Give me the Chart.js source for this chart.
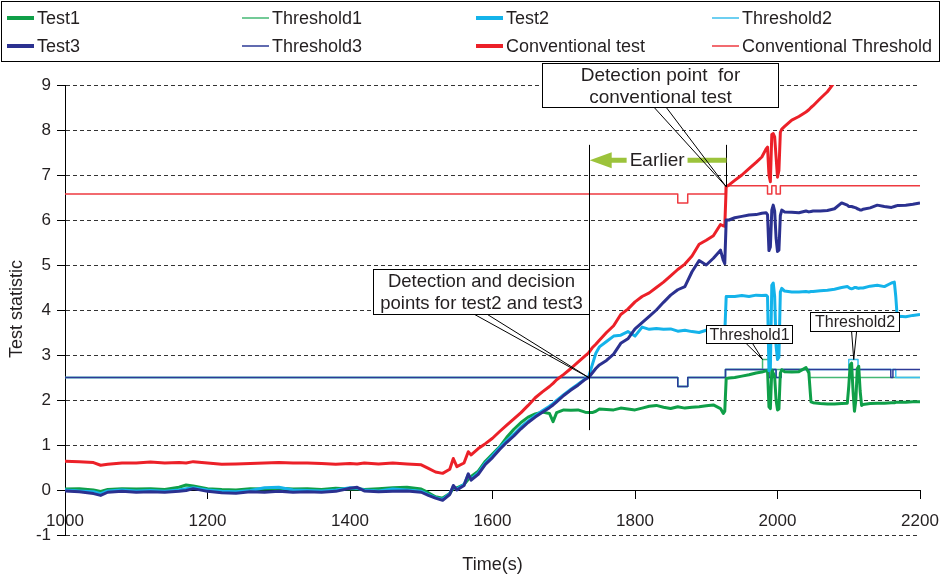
<!DOCTYPE html>
<html>
<head>
<meta charset="utf-8">
<script src="https://cdn.jsdelivr.net/npm/chart.js@4.4.1/dist/chart.umd.min.js"></script>
<style>
  html, body { margin: 0; padding: 0; background: #fff; }
  canvas { display: block; }
</style>
</head>
<body>
<canvas id="chart" width="942" height="581"></canvas>
<script>
// Sampling instants (s)
const time = [
  1000,1020,1040,1050,1060,1080,1100,1120,1140,1160,
  1170,1180,1200,1220,1240,1260,1280,1300,1320,1340,
  1360,1380,1400,1410,1420,1440,1460,1480,1500,1510,
  1520,1530,1540,1545,1550,1560,1566,1570,1580,1590,
  1600,1610,1620,1630,1640,1650,1660,1670,1680,1685,
  1690,1700,1710,1720,1730,1735,1740,1745,1750,1760,
  1770,1780,1790,1800,1810,1820,1830,1840,1850,1860,
  1870,1880,1890,1900,1910,1920,1924,1926,1928,1932,
  1940,1950,1960,1970,1978,1984,1986,1988,1990,1992,
  1994,1996,1998,2000,2002,2004,2006,2010,2020,2030,
  2040,2044,2047,2050,2060,2070,2080,2090,2098,2100,
  2102,2104,2106,2108,2110,2112,2114,2116,2118,2120,
  2130,2140,2150,2160,2164,2166,2168,2170,2180,2190,
  2200
];

const test1 = [
  0.02,0.03,0.00,-0.03,0.01,0.03,0.02,0.03,0.01,0.06,
  0.11,0.09,0.03,0.01,0.00,0.03,0.02,0.04,0.02,0.03,
  0.01,0.04,0.02,0.03,0.01,0.03,0.05,0.06,0.02,-0.06,
  -0.15,-0.18,-0.08,0.04,0.05,0.12,0.24,0.30,0.42,0.64,
  0.80,0.96,1.17,1.35,1.50,1.62,1.69,1.73,1.70,1.52,
  1.72,1.78,1.77,1.78,1.73,1.72,1.72,1.75,1.80,1.79,
  1.78,1.82,1.80,1.78,1.82,1.86,1.88,1.84,1.81,1.85,
  1.82,1.84,1.85,1.87,1.89,1.81,1.70,1.75,2.48,2.49,
  2.50,2.53,2.56,2.60,2.62,2.65,2.66,1.85,1.81,2.67,
  2.60,2.52,2.00,1.78,1.80,2.60,2.67,2.63,2.62,2.63,
  2.72,2.60,1.96,1.94,1.92,1.91,1.91,1.92,1.93,2.30,
  2.78,2.82,2.20,1.75,2.00,2.70,2.75,2.20,1.88,1.90,
  1.92,1.93,1.93,1.94,1.94,1.95,1.95,1.95,1.95,1.96,
  1.96
];

const test2 = [
  0.00,-0.02,-0.04,-0.08,-0.02,0.00,-0.02,-0.01,-0.03,0.00,
  0.03,0.05,0.00,-0.03,-0.04,-0.01,0.05,0.06,0.00,-0.01,
  -0.02,0.00,0.05,0.04,0.00,-0.02,0.02,0.00,-0.03,-0.10,
  -0.17,-0.21,-0.08,0.08,0.02,0.12,0.34,0.24,0.38,0.60,
  0.76,0.94,1.10,1.24,1.40,1.53,1.65,1.76,1.86,1.92,
  1.99,2.12,2.24,2.35,2.47,2.52,2.78,3.04,3.18,3.30,
  3.42,3.44,3.52,3.42,3.62,3.57,3.59,3.57,3.58,3.53,
  3.55,3.52,3.50,3.55,3.56,3.62,3.50,3.49,4.30,4.30,
  4.30,4.32,4.30,4.33,4.32,4.33,4.30,2.65,2.70,4.55,
  4.60,4.30,3.20,2.90,2.95,4.40,4.48,4.42,4.40,4.40,
  4.41,4.40,4.41,4.41,4.43,4.44,4.46,4.50,4.52,4.50,
  4.48,4.47,4.48,4.50,4.50,4.49,4.48,4.49,4.49,4.49,
  4.53,4.55,4.52,4.60,4.62,4.30,3.85,3.86,3.85,3.88,
  3.90
];

const test3 = [
  -0.02,-0.04,-0.08,-0.12,-0.05,-0.03,-0.05,-0.04,-0.05,-0.03,
  -0.01,0.03,-0.03,-0.06,-0.07,-0.04,-0.05,-0.03,-0.05,-0.04,
  -0.05,-0.03,0.04,0.06,-0.02,-0.04,-0.03,-0.02,-0.05,-0.12,
  -0.18,-0.23,-0.10,0.10,0.00,0.10,0.36,0.22,0.35,0.57,
  0.72,0.90,1.06,1.20,1.36,1.50,1.62,1.73,1.83,1.89,
  1.96,2.10,2.22,2.33,2.46,2.50,2.60,2.70,2.78,2.88,
  3.02,3.26,3.36,3.58,3.72,3.86,4.00,4.17,4.33,4.45,
  4.52,4.85,5.10,5.00,5.15,5.33,5.10,5.03,6.00,6.00,
  6.05,6.08,6.11,6.12,6.15,6.16,6.12,5.32,5.40,6.22,
  6.33,6.20,5.60,5.30,5.33,6.10,6.22,6.18,6.17,6.16,
  6.20,6.18,6.19,6.20,6.20,6.21,6.25,6.38,6.33,6.30,
  6.30,6.30,6.29,6.28,6.27,6.25,6.24,6.22,6.22,6.24,
  6.27,6.33,6.30,6.28,6.30,6.31,6.32,6.32,6.33,6.35,
  6.38
];

const conventionalTest = [
  0.64,0.63,0.61,0.55,0.57,0.60,0.60,0.62,0.60,0.61,
  0.60,0.63,0.60,0.57,0.58,0.59,0.60,0.61,0.60,0.60,
  0.59,0.57,0.59,0.58,0.60,0.58,0.60,0.58,0.56,0.48,
  0.40,0.37,0.46,0.70,0.52,0.60,0.85,0.78,0.92,1.03,
  1.15,1.30,1.44,1.58,1.72,1.88,2.05,2.18,2.30,2.37,
  2.45,2.57,2.70,2.84,2.98,3.05,3.16,3.24,3.33,3.50,
  3.65,3.90,4.02,4.18,4.30,4.38,4.50,4.62,4.76,4.90,
  5.02,5.20,5.46,5.55,5.65,5.90,5.87,5.86,6.74,6.78,
  6.88,7.00,7.14,7.28,7.40,7.58,7.62,7.00,6.85,7.90,
  7.92,7.85,7.40,6.95,7.10,7.95,8.02,8.08,8.22,8.30,
  8.40,8.45,8.50,8.54,8.70,8.85,9.06,9.25,null,null,
  null,null,null,null,null,null,null,null,null,null,
  null,null,null,null,null,null,null,null,null,null,
  null
];

// Thresholds: [time from which the level holds, level]
const threshold1Steps = [
  [1000,2.5],[1860,2.3],[1874,2.5],[1927,2.68],[1979,2.9],[1988,2.68],
  [2045,2.5],[2200,2.5]
];
const threshold2Steps = [
  [1000,2.5],[1860,2.3],[1874,2.5],[1927,2.68],[1988,2.5],[1994,2.68],
  [1998,2.5],[2005,2.68],[2100,2.9],[2113,2.68],[2166,2.5],[2200,2.5]
];
const threshold3Steps = [
  [1000,2.5],[1860,2.3],[1874,2.5],[1927,2.68],[1988,2.5],[1994,2.68],
  [1998,2.5],[2005,2.68],[2159,2.5],[2162,2.68],[2200,2.68]
];
const conventionalThresholdSteps = [
  [1000,6.58],[1860,6.38],[1874,6.58],[1927,6.76],[1986,6.58],[1992,6.76],
  [1998,6.58],[2004,6.76],[2200,6.76]
];

const xTicks = [1000, 1200, 1400, 1600, 1800, 2000, 2200];
const yTicks = [-1, 0, 1, 2, 3, 4, 5, 6, 7, 8, 9];

const FONT = "'Liberation Sans', Arial, Helvetica, sans-serif";
const TEXT = '#231f20';

const series = (vals) => time.map((t, i) => ({ x: t, y: vals[i] }));
const steps = (s) => s.map(([t, v]) => ({ x: t, y: v }));

const testLine = (label, color, vals, order) => ({
  label, data: series(vals), borderColor: color, backgroundColor: color,
  borderWidth: 3, pointRadius: 0, tension: 0, spanGaps: false, order,
  legendWidth: 4
});
const thresholdLine = (label, color, s, order) => ({
  label, data: steps(s), borderColor: color, backgroundColor: color,
  borderWidth: 1.5, pointRadius: 0, stepped: true, order,
  legendWidth: 1.5
});

const datasets = [
  testLine('Test1', '#0f9f48', test1, 4),
  thresholdLine('Threshold1', '#45b974', threshold1Steps, 7),
  testLine('Test2', '#14b3ea', test2, 3),
  thresholdLine('Threshold2', '#3cbfed', threshold2Steps, 6),
  testLine('Test3', '#2b3190', test3, 1),
  thresholdLine('Threshold3', '#2d3a96', threshold3Steps, 5),
  testLine('Conventional test', '#ec2028', conventionalTest, 2),
  thresholdLine('Conventional Threshold', '#ee3a40', conventionalThresholdSteps, 8)
];

// Callouts and markers, anchored in data units
const notes = {
  decisionTime: 1735, conventionalTime: 1928,
  markerTop: 7.67, markerBottom: 1.33,
  arrowLevel: 7.33,
  callouts: [
    { lines: ['Detection point  for', 'conventional test'], size: 19,
      t0: 1670, t1: 2000, v0: 9.49, v1: 8.51, base: [1827, 1844], tip: [1928, 6.74] },
    { lines: ['Detection and decision', 'points for test2 and test3'], size: 18.5,
      t0: 1432, t1: 1736, v0: 4.91, v1: 3.91, base: [1575, 1593], tip: [1735, 2.5] },
    { lines: ['Threshold1'], size: 16,
      t0: 1899, t1: 2021, v0: 3.67, v1: 3.27, base: [1956, 1965], tip: [1979, 2.9] },
    { lines: ['Threshold2'], size: 16,
      t0: 2045, t1: 2171, v0: 3.96, v1: 3.53, base: [2104, 2111], tip: [2107, 2.9] }
  ]
};

const overlay = {
  id: 'overlay',
  afterDraw(chart) {
    const { ctx, scales: { x, y } } = chart;
    const px = t => x.getPixelForValue(t);
    const py = v => y.getPixelForValue(v);
    ctx.save();

    // legend box
    ctx.strokeStyle = '#000';
    ctx.lineWidth = 1;
    ctx.strokeRect(1.5, 1.5, 938, 60);
    const colX = [7, 242, 476, 712];
    const rowY = [18, 46];
    ctx.font = `18px ${FONT}`;
    ctx.textBaseline = 'middle';
    ctx.textAlign = 'left';
    chart.data.datasets.forEach((ds, i) => {
      const cx = colX[i % 4], cy = rowY[Math.floor(i / 4)];
      ctx.strokeStyle = ds.borderColor;
      ctx.lineWidth = ds.legendWidth;
      ctx.beginPath();
      ctx.moveTo(cx, cy);
      ctx.lineTo(cx + 27, cy);
      ctx.stroke();
      ctx.fillStyle = TEXT;
      ctx.fillText(ds.label, cx + 30, cy + 1);
    });

    // axis titles
    ctx.fillStyle = TEXT;
    ctx.font = `18px ${FONT}`;
    ctx.textAlign = 'center';
    ctx.fillText('Time(s)', (chart.chartArea.left + chart.chartArea.right) / 2, 565);
    ctx.save();
    ctx.translate(17, 309);
    ctx.rotate(-Math.PI / 2);
    ctx.fillText('Test statistic', 0, 0);
    ctx.restore();

    // detection markers
    ctx.strokeStyle = '#000';
    ctx.lineWidth = 1;
    const xd = Math.round(px(notes.decisionTime)) + 0.5;
    const xc = Math.round(px(notes.conventionalTime)) + 0.5;
    ctx.beginPath();
    ctx.moveTo(xd, py(notes.markerTop));
    ctx.lineTo(xd, py(notes.markerBottom));
    ctx.moveTo(xc, py(notes.markerTop));
    ctx.lineTo(xc, py(6.74));
    ctx.stroke();

    // "Earlier" arrow
    const ay = py(notes.arrowLevel);
    const tipX = px(notes.decisionTime) + 1;
    const headBase = tipX + 22;
    ctx.font = `19px ${FONT}`;
    const label = 'Earlier';
    const lw = ctx.measureText(label).width;
    const lc = px(1831);
    ctx.strokeStyle = '#9cc33b';
    ctx.fillStyle = '#9cc33b';
    ctx.lineWidth = 5;
    ctx.beginPath();
    ctx.moveTo(headBase - 1, ay);
    ctx.lineTo(lc - lw / 2 - 3, ay);
    ctx.moveTo(lc + lw / 2 + 3, ay);
    ctx.lineTo(xc, ay);
    ctx.stroke();
    ctx.beginPath();
    ctx.moveTo(tipX, ay);
    ctx.lineTo(headBase, ay - 8);
    ctx.lineTo(headBase, ay + 8);
    ctx.closePath();
    ctx.fill();
    ctx.fillStyle = TEXT;
    ctx.textAlign = 'center';
    ctx.fillText(label, lc, ay + 1);

    // callouts
    notes.callouts.forEach(c => {
      const l = Math.round(px(c.t0)) + 0.5, r = Math.round(px(c.t1)) + 0.5;
      const t = Math.round(py(c.v0)) + 0.5, b = Math.round(py(c.v1)) + 0.5;
      ctx.strokeStyle = '#000';
      ctx.lineWidth = 1;
      ctx.beginPath();
      ctx.moveTo(px(c.base[0]), b);
      ctx.lineTo(px(c.tip[0]), py(c.tip[1]));
      ctx.lineTo(px(c.base[1]), b);
      ctx.stroke();
      ctx.fillStyle = '#fff';
      ctx.fillRect(l, t, r - l, b - t);
      ctx.strokeRect(l, t, r - l, b - t);
      ctx.fillStyle = TEXT;
      ctx.font = `${c.size}px ${FONT}`;
      ctx.textAlign = 'center';
      const lh = (b - t) / c.lines.length;
      c.lines.forEach((s, i) => ctx.fillText(s, (l + r) / 2, t + lh * (i + 0.5) + 1));
    });

    ctx.restore();
  }
};

new Chart(document.getElementById('chart'), {
  type: 'line',
  data: { datasets },
  plugins: [overlay],
  options: {
    responsive: false,
    devicePixelRatio: 1,
    animation: false,
    layout: { padding: { top: 85, right: 22, bottom: 46, left: 0 } },
    plugins: { legend: { display: false }, tooltip: { enabled: false } },
    elements: { line: { borderCapStyle: 'butt', borderJoinStyle: 'round' } },
    scales: {
      x: {
        type: 'linear', min: xTicks[0], max: xTicks[xTicks.length - 1],
        position: { y: 0 },
        afterBuildTicks: s => { s.ticks = xTicks.map(v => ({ value: v })); },
        // end labels may overhang the plot edges, as in the layout padding above
        afterFit: s => { s.paddingLeft = 0; s.paddingRight = 0; },
        ticks: {
          callback: v => String(v), color: TEXT, padding: 13, maxRotation: 0,
          autoSkip: false, font: { family: FONT, size: 17 }
        },
        grid: { drawOnChartArea: false, drawTicks: true, tickLength: 8, tickColor: '#000', tickWidth: 1 },
        border: { display: true, color: '#000', width: 1 }
      },
      y: {
        type: 'linear', min: yTicks[0], max: yTicks[yTicks.length - 1],
        afterBuildTicks: s => { s.ticks = yTicks.map(v => ({ value: v })); },
        afterFit: s => { s.width = 65; },
        ticks: { color: TEXT, padding: 6, font: { family: FONT, size: 17 } },
        grid: { color: '#333', lineWidth: 1, tickLength: 8, tickColor: '#000', tickWidth: 1 },
        border: { display: true, color: '#000', width: 1, dash: [4, 3] }
      }
    }
  }
});
</script>
</body>
</html>
